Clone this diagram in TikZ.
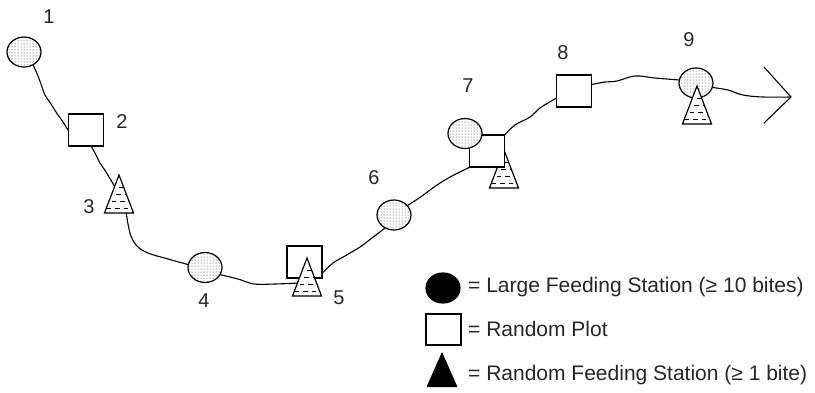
\documentclass[tikz,border=0pt]{standalone}
\usepackage{fontspec}
\setmainfont{Liberation Sans}
\usetikzlibrary{shapes.geometric,patterns,calc,backgrounds}
\begin{document}
\begin{tikzpicture}[x=1pt,y=-1pt,
  shp/.style={line width=1.2pt},
  fs/.style={shp, draw, ellipse, minimum width=34pt, minimum height=30pt, inner sep=0pt, preaction={fill=white}, pattern=dots, pattern color=black!80},
  rp/.style={shp, draw, rectangle, fill=white, minimum width=35pt, minimum height=32pt, inner sep=0pt},
  num/.style={font=\fontsize{20}{24}\selectfont, inner sep=0pt, text=black!85},
  leg/.style={font=\fontsize{21}{25}\selectfont, inner sep=0pt, anchor=base west, text=black!85},
  conn/.style={line width=1.1pt, line cap=round, line join=round},
  dsh/.style={line width=1pt, dash pattern=on 4.5pt off 4pt},
  tri/.pic={
    \coordinate (-apex) at (0,0);
    \coordinate (-bl) at (-14.5,38);
    \coordinate (-br) at (14.5,38);
    \fill[white] (0,0) -- (14.5,38) -- (-14.5,38) -- cycle;
    \begin{scope}
      \clip (0,0) -- (14.5,38) -- (-14.5,38) -- cycle;
      \draw[dsh, dash phase=2pt] (-15,12) -- (15,12);
      \draw[dsh, dash phase=5pt] (-15,19) -- (15,19);
      \draw[dsh, dash phase=1pt] (-15,26) -- (15,26);
      \draw[dsh, dash phase=6pt] (-15,33) -- (15,33);
    \end{scope}
    \draw[shp, line join=miter] (0,0) -- (14.5,38) -- (-14.5,38) -- cycle;
  }
]
\useasboundingbox (0,0) rectangle (815,392);

% stations
\node[fs] (c1) at (24,52) {};
\node[rp] (s2) at (86,130) {};
\pic (t3) at (119,175) {tri};
\node[fs] (c4) at (205,267.5) {};
\node[rp] (s5) at (304.5,262) {};
\pic (t5) at (307,258) {tri};
\node[fs] (c6) at (394,215) {};
\pic (t7) at (504,150) {tri};
\node[rp] (s7) at (487,151) {};
\node[fs] (c7) at (465,133.5) {};
\node[rp] (s8) at (574,91) {};
\node[fs] (c9) at (696,83) {};
\pic (t9) at (697,86) {tri};
\coordinate (tip) at (791,97);

% numbers
\node[num] (l1) at (49,17) {1};
\node[num] (l2) at (122,122) {2};
\node[num] (l3) at (89,207) {3};
\node[num] (l4) at (204,301) {4};
\node[num] (l5) at (339,298) {5};
\node[num] (l6) at (374,178) {6};
\node[num] (l7) at (468,86) {7};
\node[num] (l8) at (563,53) {8};
\node[num] (l9) at (689,40) {9};

% legend
\node[shp, draw, ellipse, fill=black, minimum width=34pt, minimum height=30pt, inner sep=0pt] (lc) at (443,288) {};
\node[rp, minimum height=31pt] (ls) at (443.5,329.5) {};
\coordinate (lt) at (442,352);
\fill (lt) -- ++(15.5,35) -- ++(-31,0) -- cycle;
\node[leg] (t1) at (468,292) {= Large Feeding Station (≥ 10 bites)};
\node[leg] (t2) at (468,336) {= Random Plot};
\node[leg] (t3txt) at (468,380) {= Random Feeding Station (≥ 1 bite)};

% path
\coordinate (a3in) at ($(t3-apex)!0.3!(t3-bl)$);
\coordinate (a3out) at ($(t3-bl)!0.75!(t3-br)$);
\coordinate (a5in) at ($(t5-apex)!0.66!(t5-bl)$);
\begin{scope}[on background layer]
\draw[conn] plot[smooth, tension=0.6] coordinates {(c1.-55) (38,76) (42,87) (45,95) (51,104) (56,112) (63,122) (s2.west)};
\draw[conn] plot[smooth, tension=0.6] coordinates {(s2.-72) (96,155) (100,163) (106,172) (a3in)};
\draw[conn] plot[smooth, tension=0.6] coordinates {(a3out) (128,224) (131,236) (137,246) (148,253) (168,259) (c4.170)};
\draw[conn] plot[smooth, tension=0.5] coordinates {(c4.-25) (238,279) (254,284) (275,284) (a5in)};
\draw[conn] plot[smooth, tension=0.6] coordinates {(s5.-31) (333,263) (345,256) (360,247) (372,238) (c6.-125)};
\draw[conn] plot[smooth, tension=0.6] coordinates {(c6.35) (422,196) (437,185) (452,176) (s7.south west)};
\draw[conn] plot[smooth, tension=0.6] coordinates {(s7.north east) (515,125) (530,117) (540,108) (548,103) (s8.-158)};
\draw[conn] plot[smooth, tension=0.6] coordinates {(s8.20) (605,82) (617,81) (635,76) (655,78) (c9.170)};
\draw[conn] plot[smooth, tension=0.6] coordinates {(c9.-15) (728,90) (743,95) (763,97) (tip)};
\end{scope}
\draw[conn, line width=1.1pt] ($(tip)+(-27,-30)$) -- (tip) -- ($(tip)+(-27,26)$);
\end{tikzpicture}
\end{document}
